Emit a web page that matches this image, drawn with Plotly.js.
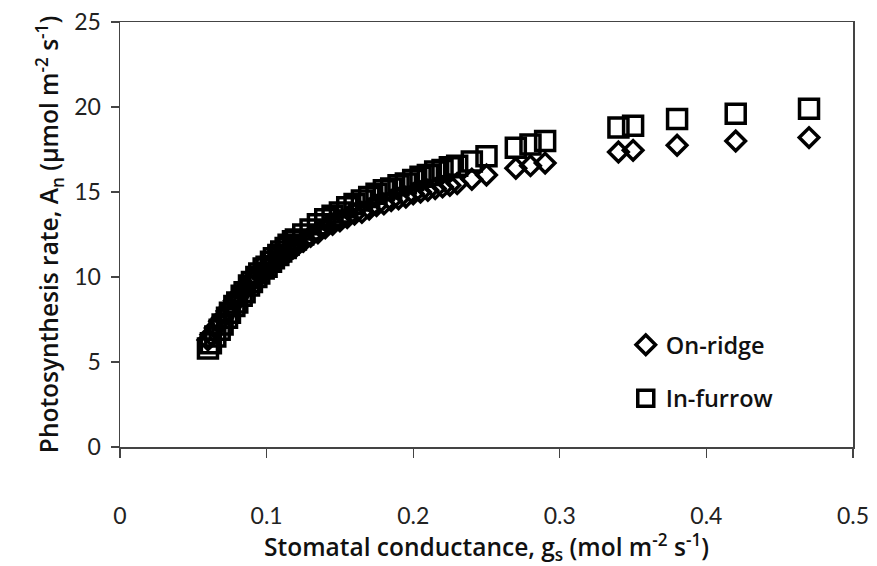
<!DOCTYPE html>
<html>
<head>
<meta charset="utf-8">
<script src="https://cdn.plot.ly/plotly-3.0.1.min.js"></script>
<style>html,body{margin:0;padding:0;background:#fff;}#chart{width:877px;height:566px;}</style>
</head>
<body>
<div id="chart"></div>
<script>
// Stomatal conductance gs (mol m-2 s-1)
const gs = [0.060,0.062,0.065,0.068,0.070,0.073,0.075,0.078,0.080,0.083,0.085,0.088,0.090,0.093,0.095,0.098,
  0.100,0.103,0.105,0.108,0.110,0.113,0.115,0.118,0.120,0.125,0.130,0.135,0.140,0.145,0.150,0.155,0.160,0.165,
  0.170,0.175,0.180,0.185,0.190,0.195,0.200,0.205,0.210,0.215,0.220,0.225,0.230,0.240,0.250,0.270,0.280,0.290,
  0.340,0.350,0.380,0.420,0.470];
// Photosynthesis rate An, On-ridge
const onRidge = [6.3,6.6,7.0,7.4,7.6,8.0,8.2,8.6,8.8,9.1,9.3,9.6,9.8,10.0,10.2,10.4,
  10.6,10.8,10.9,11.1,11.2,11.4,11.5,11.7,11.8,12.1,12.4,12.6,12.9,13.1,13.3,13.5,13.7,13.8,
  14.0,14.2,14.3,14.5,14.6,14.7,14.9,15.0,15.1,15.2,15.3,15.4,15.5,15.75,16.0,16.4,16.55,16.7,
  17.35,17.45,17.75,18.0,18.2];
// Photosynthesis rate An, In-furrow
const inFurrow = [5.8,6.1,6.5,6.9,7.2,7.6,7.9,8.3,8.5,8.9,9.1,9.5,9.7,10.0,10.2,10.5,
  10.6,10.9,11.1,11.3,11.5,11.7,11.9,12.1,12.2,12.5,12.8,13.1,13.4,13.6,13.8,14.1,14.3,14.5,
  14.7,14.9,15.1,15.2,15.4,15.5,15.7,15.9,16.0,16.2,16.3,16.45,16.55,16.8,17.1,17.6,17.8,18.0,
  18.8,18.9,19.3,19.6,19.9];
const xTicks = [0,0.1,0.2,0.3,0.4,0.5];
const xTickText = ['0','0.1','0.2','0.3','0.4','0.5'];
const yTicks = [0,5,10,15,20,25];

const TICKFONT = 'Lato, "Open Sans", sans-serif';
const TITLEFONT = '"Open Sans", Lato, sans-serif';

const traces = [
  {x: gs, y: onRidge, name: 'On-ridge', type: 'scatter', mode: 'markers', legendgroup: 'a',
   marker: {symbol: 'diamond-open', size: 15, color: '#000', line: {width: 3.5, color: '#000'}}},
  {x: gs, y: inFurrow, name: 'In-furrow', type: 'scatter', mode: 'markers', legendgroup: 'b',
   marker: {symbol: 'square-open', size: 19, color: '#000', line: {width: 3.5, color: '#000'}}}
];

const layout = {
  width: 877, height: 566,
  margin: {l: 120, r: 24, t: 22, b: 119},
  paper_bgcolor: '#fff', plot_bgcolor: '#fff',
  font: {family: TICKFONT, color: '#222'},
  showlegend: true,
  legend: {x: 0.69, y: 0.292, xanchor: 'left', yanchor: 'top', bgcolor: 'rgba(0,0,0,0)',
    font: {family: TITLEFONT, size: 23.5, color: '#111', weight: 600}, tracegroupgap: 20, traceorder: 'grouped'},
  xaxis: {range: [0, 0.5], tickvals: xTicks, ticktext: xTickText, showgrid: false, zeroline: false,
    showline: true, linecolor: '#444', linewidth: 1.5, mirror: true,
    ticks: 'outside', ticklen: 9, tickwidth: 1.3, tickcolor: '#444', ticklabelstandoff: 39,
    tickfont: {family: TICKFONT, size: 23, color: '#222'},
    title: {text: 'Stomatal conductance, g<sub>s</sub> (mol m<sup>-2</sup> s<sup>-1</sup>)',
      font: {family: TITLEFONT, size: 24.5, color: '#111', weight: 600}, standoff: 5}},
  yaxis: {range: [0, 25], tickvals: yTicks, showgrid: false, zeroline: false,
    showline: true, linecolor: '#444', linewidth: 1.5, mirror: true,
    ticks: 'outside', ticklen: 8, tickwidth: 1.3, tickcolor: '#444', ticklabelstandoff: 5,
    tickfont: {family: TICKFONT, size: 23, color: '#222'},
    title: {text: 'Photosynthesis rate, A<sub>n</sub> (µmol m<sup>-2</sup> s<sup>-1</sup>)',
      font: {family: TITLEFONT, size: 24.5, color: '#111', weight: 600}, standoff: 8}}
};

Plotly.newPlot('chart', traces, layout, {displayModeBar: false, staticPlot: true});
</script>
</body>
</html>
